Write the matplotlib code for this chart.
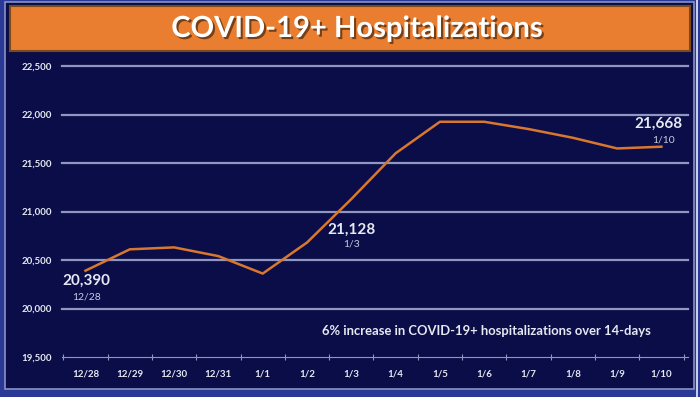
import matplotlib
matplotlib.use('Agg')
import matplotlib.pyplot as plt
import matplotlib.patches as mpatches
import matplotlib.patheffects as pe

# chart data
days = ['12/28', '12/29', '12/30', '12/31', '1/1', '1/2', '1/3',
        '1/4', '1/5', '1/6', '1/7', '1/8', '1/9', '1/10']
hospitalized = [20390, 20610, 20630, 20540, 20360, 20680, 21128,
                21600, 21925, 21925, 21850, 21760, 21650, 21668]
y_ticks = [19500, 20000, 20500, 21000, 21500, 22000, 22500]
callouts = [(0, '20,390', '12/28'), (6, '21,128', '1/3'), (13, '21,668', '1/10')]

navy = '#0a0d47'
txt = '#e6e8f2'
plt.rcParams['font.family'] = ['Lato', 'DejaVu Sans']

W, H = 700, 397
fig = plt.figure(figsize=(7, 3.97), dpi=100)
fig.patch.set_facecolor('#2a3896')

def box(x0, y0, x1, y1, **kw):
    # pixel coords (top-left origin) -> figure rectangle
    r = mpatches.Rectangle((x0 / W, 1 - y1 / H), (x1 - x0) / W, (y1 - y0) / H,
                           transform=fig.transFigure, zorder=-5, **kw)
    fig.patches.append(r)

box(5, 2, 694, 389, facecolor=navy, edgecolor='#8a92c4', lw=1.2)
box(696, 0, 698, 397, facecolor='#c9cde6', edgecolor='none')
box(10, 6, 690, 51, facecolor='#e97e30', edgecolor='#7a4a1c', lw=1.5)

fig.text(357 / W, 1 - 29 / H, 'COVID-19+ Hospitalizations', ha='center', va='center',
         color='white', fontsize=21, fontweight='bold',
         path_effects=[pe.withSimplePatchShadow(offset=(1.5, -1.5), shadow_rgbFace='#5a3010', alpha=0.8)])

ax = fig.add_axes([62 / W, 1 - 357 / H, (688 - 62) / W, (357 - 66) / H])
ax.set_zorder(2)
ax.set_facecolor('none')
x = list(range(len(days)))

for v in y_ticks[1:]:
    ax.axhline(v, color='#9096bf', lw=1.6, zorder=1, clip_on=False)
ax.axhline(y_ticks[0], color='#9096bf', lw=0.8, zorder=1, clip_on=False)

ax.plot(x, hospitalized, color='#d9772f', lw=1.8, zorder=3)

# label offsets (value dx, value dy, date dy, date dx)
offs = {0: (0.02, -107, -272, 0.02), 6: (0.0, -314, -458, 0.0), 13: (-0.07, 234, 69, 0.05)}
for i, val, lab in callouts:
    dxv, dyv, dyd, dxd = offs[i]
    ax.text(i + dxv, hospitalized[i] + dyv, val, ha='center', va='center', color=txt,
            fontsize=11, fontweight='bold', zorder=4, clip_on=False)
    ax.text(i + dxd, hospitalized[i] + dyd, lab, ha='center', va='center', color='#c8cbe0',
            fontsize=7.5, zorder=4, clip_on=False)

ax.text(9.05, 19770, '6% increase in COVID-19+ hospitalizations over 14-days',
        ha='center', va='center', color=txt, fontsize=9.4, fontweight='bold')

ax.set_xlim(-0.53, 13.6)
ax.set_ylim(19500, 22500)
ax.set_xticks(x)
ax.set_xticklabels(days)
ax.set_xticks([k + 0.5 for k in range(-1, 14)], minor=True)
ax.set_yticks(y_ticks)
ax.set_yticklabels([f'{v:,}' for v in y_ticks])
ax.tick_params(axis='x', which='major', length=0, pad=9, colors=txt, labelsize=7)
ax.tick_params(axis='x', which='minor', length=4, direction='inout', color='#9096bf', width=0.8)
ax.tick_params(axis='y', length=0, pad=7, colors=txt, labelsize=7)
for t in ax.get_xticklabels() + ax.get_yticklabels():
    t.set_fontweight('bold')
for s in ax.spines.values():
    s.set_visible(False)

fig.savefig('out.png', dpi=100, facecolor=fig.get_facecolor())
